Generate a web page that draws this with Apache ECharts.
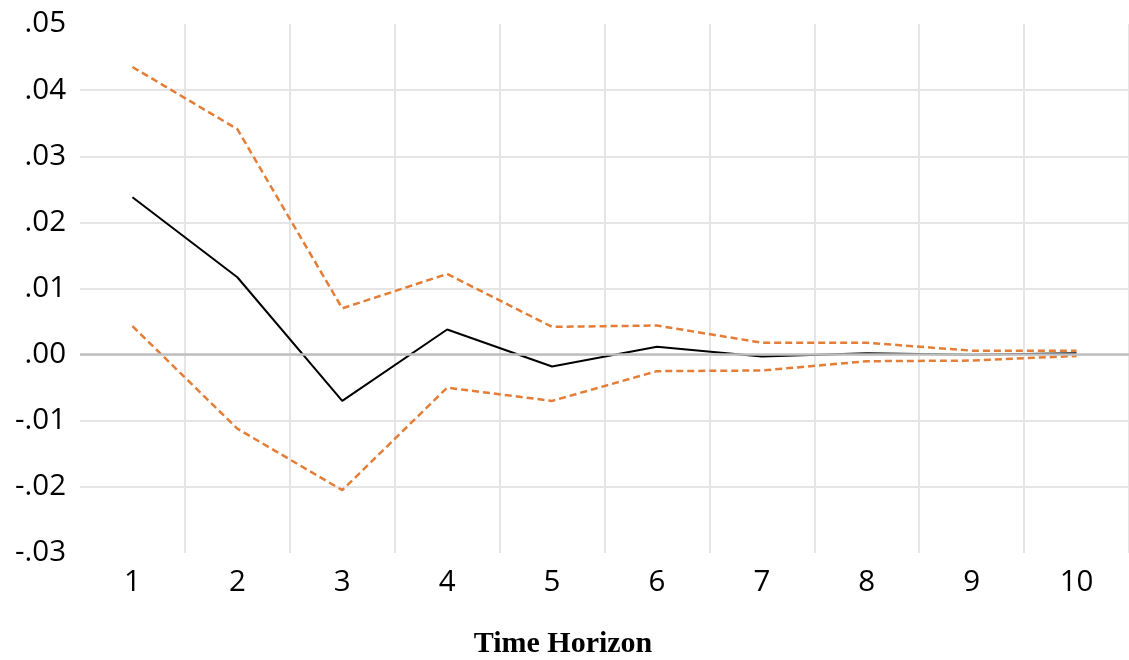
<!DOCTYPE html>
<html>
<head>
<meta charset="utf-8">
<script src="https://cdn.jsdelivr.net/npm/echarts@6/dist/echarts.min.js"></script>
<style>html,body{margin:0;padding:0;background:#fff;}#c{width:1129px;height:660px;}</style>
</head>
<body>
<div id="c"></div>
<script>
var horizons = ['1','2','3','4','5','6','7','8','9','10'];
var response = [0.0238, 0.0117, -0.0070, 0.0038, -0.0018, 0.0012, -0.0003, 0.0002, 0.0000, 0.0002];
var upperBand = [0.0435, 0.0341, 0.0070, 0.0122, 0.0042, 0.0044, 0.0018, 0.0018, 0.0006, 0.0006];
var lowerBand = [0.0043, -0.0112, -0.0205, -0.0050, -0.0070, -0.0025, -0.0024, -0.0010, -0.0009, -0.0002];
var yMin = -0.03, yMax = 0.05, yStep = 0.01;
var xTitle = 'Time Horizon';

var chart = echarts.init(document.getElementById('c'), null, {renderer: 'canvas'});
var orange = '#E47D36';
chart.setOption({
  animation: false,
  backgroundColor: '#ffffff',
  title: {
    text: xTitle,
    left: 558,
    top: 624,
    textAlign: 'center',
    textStyle: {fontFamily: 'Liberation Serif', fontWeight: 'bold', fontSize: 30, color: '#000'}
  },
  grid: {left: 80, top: 24, width: 1050, bottom: 107, containLabel: false},
  xAxis: {
    type: 'category',
    data: horizons,
    boundaryGap: true,
    axisLine: {show: false},
    axisTick: {show: false},
    axisLabel: {fontFamily: 'Open Sans', fontSize: 29.5, color: '#000', margin: 15, interval: 0},
    splitLine: {show: true, interval: 0, showMinLine: false, lineStyle: {color: '#e5e5e5', width: 2}}
  },
  yAxis: {
    type: 'value',
    min: yMin,
    max: yMax,
    interval: yStep,
    axisLine: {show: false},
    axisTick: {show: false},
    axisLabel: {
      fontFamily: 'Open Sans', fontSize: 29.5, color: '#000', margin: 14,
      formatter: function (v) { var s = (Math.round(v * 100) / 100).toFixed(2); return s.replace('0.', '.'); }
    },
    splitLine: {show: true, showMinLine: false, showMaxLine: false, lineStyle: {color: '#e5e5e5', width: 2}}
  },
  series: [
    {
      type: 'line', data: [], z: 1, silent: true,
      markLine: {
        silent: true, symbol: 'none', label: {show: false},
        lineStyle: {color: '#bfbfbf', width: 2.5, type: 'solid'},
        data: [{yAxis: 0}]
      }
    },
    {
      name: 'upper', type: 'line', data: upperBand, z: 3, symbol: 'none',
      lineStyle: {color: orange, width: 2.5, type: [7, 4]}
    },
    {
      name: 'lower', type: 'line', data: lowerBand, z: 3, symbol: 'none',
      lineStyle: {color: orange, width: 2.5, type: [7, 4]}
    },
    {
      name: 'response', type: 'line', data: response, z: 4, symbol: 'none',
      lineStyle: {color: '#000', width: 2}
    }
  ]
});
</script>
</body>
</html>
